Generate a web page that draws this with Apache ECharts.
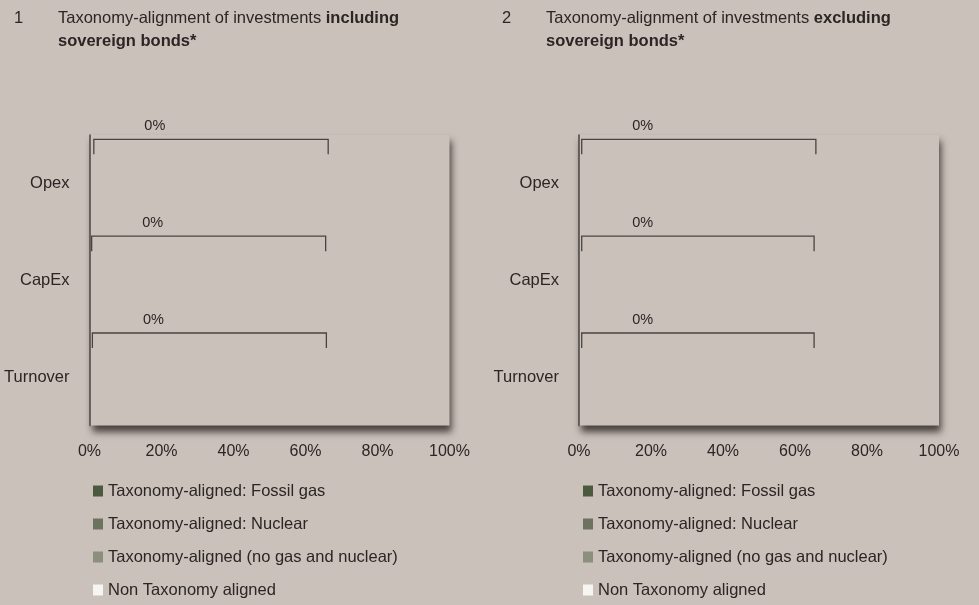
<!DOCTYPE html>
<html>
<head>
<meta charset="utf-8">
<script src="https://cdn.jsdelivr.net/npm/echarts@6/dist/echarts.min.js"></script>
<style>
  html, body { margin: 0; padding: 0; background: #cbc1bb; }
  #chart { width: 979px; height: 605px; }
</style>
</head>
<body>
<div id="chart"></div>
<script>
// Categories (top to bottom) and legend entries
const categories = ['Opex', 'CapEx', 'Turnover'];
const seriesNames = [
  'Taxonomy-aligned: Fossil gas',
  'Taxonomy-aligned: Nuclear',
  'Taxonomy-aligned (no gas and nuclear)',
  'Non Taxonomy aligned'
];
const xTicks = [0, 20, 40, 60, 80, 100];

// Chart 1: including sovereign bonds (% of investments)
const incFossilGas  = [0, 0, 0];
const incNuclear    = [0, 0, 0];
const incAligned    = [0, 0, 0];
const incNonAligned = [0, 0, 0];
const incBracketFrom = [1.2, 0.6, 0.8];
const incBracketTo   = [66.3, 65.6, 65.8];

// Chart 2: excluding sovereign bonds (% of investments)
const excFossilGas  = [0, 0, 0];
const excNuclear    = [0, 0, 0];
const excAligned    = [0, 0, 0];
const excNonAligned = [0, 0, 0];
const excBracketFrom = [0.75, 0.75, 0.75];
const excBracketTo   = [65.8, 65.3, 65.3];

const colors = ['#4b5a3f', '#6b735f', '#8b8f7b', '#f6f5f2'];
const FONT = "'Liberation Sans', Arial, sans-serif";
const TEXT = '#2b2624';
const BG = '#cbc1bb';

const chart = echarts.init(document.getElementById('chart'), null, { renderer: 'canvas' });

function panelGrid(left) {
  return {
    left: left, width: 360, top: 135, height: 290.5,
    show: true, backgroundColor: BG, borderWidth: 0,
    shadowColor: 'rgba(65,58,54,0.95)', shadowBlur: 7,
    shadowOffsetX: 2, shadowOffsetY: 6
  };
}

function xAxisFor(idx) {
  return {
    type: 'value', gridIndex: idx, min: xTicks[0], max: xTicks[xTicks.length - 1],
    interval: xTicks[1] - xTicks[0],
    axisLine: { show: false }, axisTick: { show: false }, splitLine: { show: false },
    axisLabel: { formatter: '{value}%', color: TEXT, fontFamily: FONT, fontSize: 16, margin: 18 }
  };
}

function yAxisFor(idx) {
  return {
    type: 'category', gridIndex: idx, data: categories, inverse: true,
    axisLine: { show: true, lineStyle: { color: '#4a4440', width: 1.5 } },
    axisTick: { show: false }, splitLine: { show: false },
    axisLabel: { color: TEXT, fontFamily: FONT, fontSize: 16.5, margin: 20 }
  };
}

function barSeries(idx, values) {
  return values.map((vals, i) => ({
    name: seriesNames[i], type: 'bar', stack: 'panel' + idx,
    xAxisIndex: idx, yAxisIndex: idx, barWidth: '55%',
    itemStyle: { color: colors[i] }, data: vals
  }));
}

// Bracket over the taxonomy-aligned share, labelled with its total
function bracketSeries(idx, from, to, values) {
  const alignedTotal = categories.map((_, c) => values[0][c] + values[1][c] + values[2][c]);
  return {
    type: 'custom', xAxisIndex: idx, yAxisIndex: idx, silent: true, z: 5,
    data: categories.map((_, c) => [c, from[c], to[c]]),
    encode: { x: [1, 2], y: 0 },
    renderItem: function (params, api) {
      const c = api.value(0);
      const p0 = api.coord([api.value(1), c]);
      const p1 = api.coord([api.value(2), c]);
      const band = api.size([0, 1])[1];
      const yTop = p0[1] - band * 0.455;
      const yBot = p0[1] - band * 0.3;
      return {
        type: 'group',
        children: [
          {
            type: 'polyline',
            shape: { points: [[p0[0], yBot], [p0[0], yTop], [p1[0], yTop], [p1[0], yBot]] },
            style: { fill: null, stroke: '#4a4440', lineWidth: 1.3 }
          },
          {
            type: 'text', x: p0[0] + 61, y: yTop - 13,
            style: {
              text: alignedTotal[params.dataIndex] + '%', fill: TEXT,
              font: '14.5px ' + FONT, align: 'center', verticalAlign: 'middle'
            }
          }
        ]
      };
    }
  };
}

function legendFor(left) {
  return {
    orient: 'vertical', left: left, top: 481, padding: 0,
    itemWidth: 10, itemHeight: 11, itemGap: 13, icon: 'rect',
    data: seriesNames, selectedMode: false,
    textStyle: { color: TEXT, fontFamily: FONT, fontSize: 16.5, lineHeight: 20 }
  };
}

function titleFor(num, left, bold1, bold2) {
  return [
    { text: num, left: left, top: 7, padding: 0, textStyle: { color: TEXT, fontFamily: FONT, fontSize: 16.5, fontWeight: 'normal', lineHeight: 23 } },
    {
      text: '{r|Taxonomy-alignment of investments }{b|' + bold1 + '}\n{b|' + bold2 + '}',
      left: left + 44, top: 7, padding: 0,
      textStyle: {
        rich: {
          r: { color: TEXT, fontFamily: FONT, fontSize: 16.5, fontWeight: 'normal', lineHeight: 23 },
          b: { color: TEXT, fontFamily: FONT, fontSize: 16.5, fontWeight: 'bold', lineHeight: 23 }
        }
      }
    }
  ];
}

const incValues = [incFossilGas, incNuclear, incAligned, incNonAligned];
const excValues = [excFossilGas, excNuclear, excAligned, excNonAligned];

chart.setOption({
  backgroundColor: BG,
  animation: false,
  title: titleFor('1', 14, 'including', 'sovereign bonds*').concat(titleFor('2', 502, 'excluding', 'sovereign bonds*')),
  legend: [legendFor(93), legendFor(583)],
  grid: [panelGrid(89.5), panelGrid(579)],
  xAxis: [xAxisFor(0), xAxisFor(1)],
  yAxis: [yAxisFor(0), yAxisFor(1)],
  series: [].concat(
    barSeries(0, incValues),
    barSeries(1, excValues),
    [bracketSeries(0, incBracketFrom, incBracketTo, incValues),
     bracketSeries(1, excBracketFrom, excBracketTo, excValues)]
  )
});
</script>
</body>
</html>
